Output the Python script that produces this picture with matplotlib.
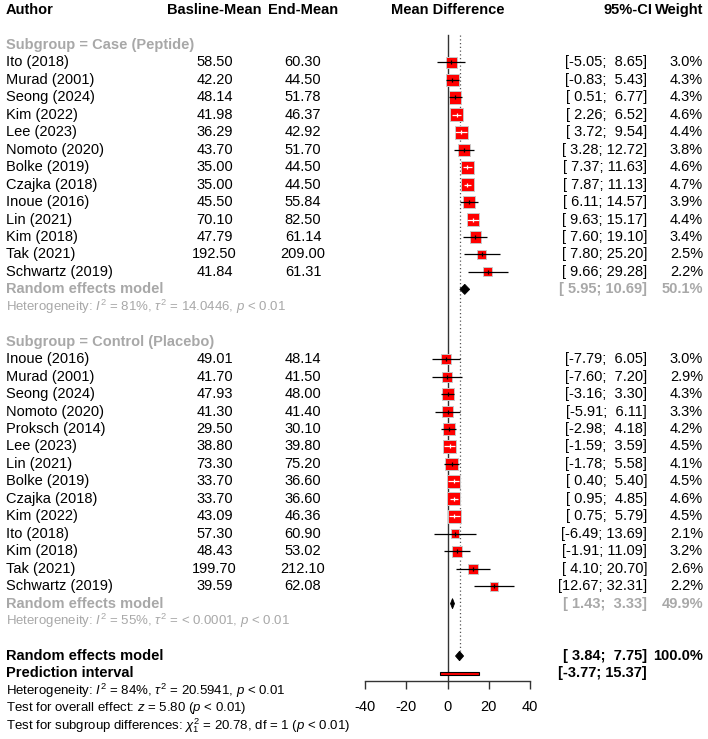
import matplotlib
matplotlib.use('Agg')
import matplotlib.pyplot as plt
import matplotlib.transforms as mtransforms
from matplotlib.patches import Polygon, Rectangle
import numpy as np

plt.rcParams['font.family'] = ['Liberation Sans', 'DejaVu Sans']
plt.rcParams['mathtext.fontset'] = 'custom'
plt.rcParams['mathtext.rm'] = 'Liberation Sans'
plt.rcParams['mathtext.it'] = 'Liberation Sans:italic'
plt.rcParams['mathtext.bf'] = 'Liberation Sans:bold'

# ---------------- data ----------------
case_authors = ["Ito (2018)", "Murad (2001)", "Seong (2024)", "Kim (2022)", "Lee (2023)",
                "Nomoto (2020)", "Bolke (2019)", "Czajka (2018)", "Inoue (2016)", "Lin (2021)",
                "Kim (2018)", "Tak (2021)", "Schwartz (2019)"]
case_base = [58.50, 42.20, 48.14, 41.98, 36.29, 43.70, 35.00, 35.00, 45.50, 70.10, 47.79, 192.50, 41.84]
case_end = [60.30, 44.50, 51.78, 46.37, 42.92, 51.70, 44.50, 44.50, 55.84, 82.50, 61.14, 209.00, 61.31]
case_md = [1.80, 2.30, 3.64, 4.39, 6.63, 8.00, 9.50, 9.50, 10.34, 12.40, 13.35, 16.50, 19.47]
case_lo = [-5.05, -0.83, 0.51, 2.26, 3.72, 3.28, 7.37, 7.87, 6.11, 9.63, 7.60, 7.80, 9.66]
case_hi = [8.65, 5.43, 6.77, 6.52, 9.54, 12.72, 11.63, 11.13, 14.57, 15.17, 19.10, 25.20, 29.28]
case_w = [3.0, 4.3, 4.3, 4.6, 4.4, 3.8, 4.6, 4.7, 3.9, 4.4, 3.4, 2.5, 2.2]
case_re = (8.32, 5.95, 10.69, 50.1)

ctrl_authors = ["Inoue (2016)", "Murad (2001)", "Seong (2024)", "Nomoto (2020)", "Proksch (2014)",
                "Lee (2023)", "Lin (2021)", "Bolke (2019)", "Czajka (2018)", "Kim (2022)",
                "Ito (2018)", "Kim (2018)", "Tak (2021)", "Schwartz (2019)"]
ctrl_base = [49.01, 41.70, 47.93, 41.30, 29.50, 38.80, 73.30, 33.70, 33.70, 43.09, 57.30, 48.43, 199.70, 39.59]
ctrl_end = [48.14, 41.50, 48.00, 41.40, 30.10, 39.80, 75.20, 36.60, 36.60, 46.36, 60.90, 53.02, 212.10, 62.08]
ctrl_md = [-0.87, -0.20, 0.07, 0.10, 0.60, 1.00, 1.90, 2.90, 2.90, 3.27, 3.60, 4.59, 12.40, 22.49]
ctrl_lo = [-7.79, -7.60, -3.16, -5.91, -2.98, -1.59, -1.78, 0.40, 0.95, 0.75, -6.49, -1.91, 4.10, 12.67]
ctrl_hi = [6.05, 7.20, 3.30, 6.11, 4.18, 3.59, 5.58, 5.40, 4.85, 5.79, 13.69, 11.09, 20.70, 32.31]
ctrl_w = [3.0, 2.9, 4.3, 3.3, 4.2, 4.5, 4.1, 4.5, 4.6, 4.5, 2.1, 3.2, 2.6, 2.2]
ctrl_re = (2.38, 1.43, 3.33, 49.9)

overall_re = (5.795, 3.84, 7.75, 100.0)
pred_int = (-3.77, 15.37)
x_ticks = [-40, -20, 0, 20, 40]

het_case = r"Heterogeneity: $I^2$ = 81%, $\tau^2$ = 14.0446, $p$ < 0.01"
het_ctrl = r"Heterogeneity: $I^2$ = 55%, $\tau^2$ = < 0.0001, $p$ < 0.01"
het_all = r"Heterogeneity: $I^2$ = 84%, $\tau^2$ = 20.5941, $p$ < 0.01"
test_all = r"Test for overall effect: $z$ = 5.80 ($p$ < 0.01)"
test_sub = r"Test for subgroup differences: $\chi^2_1$ = 20.78, df = 1 ($p$ < 0.01)"

# ---------------- layout ----------------
W, H, DPI = 708, 739, 100
ROW0, ROWH = 10.0, 17.46        # pixel y of row 0 and row height
X0, XS = 447.6, 2.0625          # pixel x of 0 and pixels per unit
FS = 10.5
FS_HET = 9.5
GRAY = '#A8A8A8'

fig = plt.figure(figsize=(W / DPI, H / DPI), dpi=DPI)
ax = fig.add_axes([0, 0, 1, 1])
ax.set_xlim(-X0 / XS, (W - X0) / XS)
ax.set_ylim((H - ROW0) / ROWH, -ROW0 / ROWH)

tr = mtransforms.blended_transform_factory(fig.transFigure, ax.transData)


def fx(px):
    return px / W


def txt(px, row, s, ha='left', weight='normal', color='black', size=FS):
    ax.text(fx(px), row, s, transform=tr, ha=ha, va='center', fontsize=size,
            fontweight=weight, color=color)


X_AUTH, X_BASE, X_END, X_CI, X_W = 6, 214.5, 303, 647, 703

# header
txt(X_AUTH, 0, "Author", weight='bold')
txt(X_BASE, 0, "Basline-Mean", ha='center', weight='bold')
txt(X_END, 0, "End-Mean", ha='center', weight='bold')
ax.text(0, 0, "Mean Difference", ha='center', va='center', fontsize=FS, fontweight='bold')
txt(653, 0, "95%-CI", ha='right', weight='bold')
txt(X_W, 0, "Weight", ha='right', weight='bold')


def ci_str(lo, hi):
    return f"[{lo:5.2f}; {hi:5.2f}]"


def side_px(w):
    return 13.0 * np.sqrt(w / 4.7)


def draw_group(start, label, authors, base, end, md, lo, hi, w, re, het):
    txt(X_AUTH, start, label, weight='bold', color=GRAY)
    rows = np.arange(start + 1, start + 1 + len(authors))
    for r, a, b, e, m, l, h, ww in zip(rows, authors, base, end, md, lo, hi, w):
        txt(X_AUTH, r, a)
        txt(X_BASE, r, f"{b:.2f}", ha='center')
        txt(X_END, r, f"{e:.2f}", ha='center')
        txt(X_CI, r, ci_str(l, h), ha='right')
        txt(X_W, r, f"{ww:.1f}%", ha='right')
    sides = np.array([side_px(v) for v in w])
    ax.scatter(md, rows, s=(sides * 72 / DPI) ** 2, marker='s', color='red',
               edgecolors='#C8C8C8', linewidths=0.7, zorder=3)
    for r, m, l, h, sd in zip(rows, md, lo, hi, sides):
        inside = (h - l) * XS <= sd
        c = 'white' if inside else 'black'
        ax.plot([l, h], [r, r], color=c, lw=0.9, zorder=4, solid_capstyle='butt')
        ax.plot([m], [r], marker='|', color=c, markersize=3.2, mew=0.9, zorder=4)
    rr = start + 1 + len(authors)
    txt(X_AUTH, rr, "Random effects model", weight='bold', color=GRAY)
    m, l, h, ww = re
    dh = 0.29
    ax.add_patch(Polygon([(l, rr), (m, rr - dh), (h, rr), (m, rr + dh)], closed=True,
                         facecolor='black', edgecolor='black', lw=0.6, zorder=4))
    txt(X_CI, rr, ci_str(l, h), ha='right', weight='bold', color=GRAY)
    txt(X_W, rr, f"{ww:.1f}%", ha='right', weight='bold', color=GRAY)
    txt(X_AUTH, rr + 1, het, color=GRAY, size=FS_HET)


draw_group(2, "Subgroup = Case (Peptide)", case_authors, case_base, case_end, case_md,
           case_lo, case_hi, case_w, case_re, het_case)
draw_group(19, "Subgroup = Control (Placebo)", ctrl_authors, ctrl_base, ctrl_end, ctrl_md,
           ctrl_lo, ctrl_hi, ctrl_w, ctrl_re, het_ctrl)

# overall
r_all = 37
m, l, h, ww = overall_re
dh = 0.27
txt(X_AUTH, r_all, "Random effects model", weight='bold')
ax.add_patch(Polygon([(l, r_all), (m, r_all - dh), (h, r_all), (m, r_all + dh)], closed=True,
                     facecolor='black', edgecolor='black', lw=0.6, zorder=4))
txt(X_CI, r_all, ci_str(l, h), ha='right', weight='bold')
txt(X_W, r_all, f"{ww:.1f}%", ha='right', weight='bold')

r_pi = 38
txt(X_AUTH, r_pi, "Prediction interval", weight='bold')
pl, ph = pred_int
ax.add_patch(Rectangle((pl, r_pi - 0.1), ph - pl, 0.2, facecolor='red', edgecolor='black',
                       lw=0.8, zorder=4))
txt(X_CI, r_pi, ci_str(pl, ph), ha='right', weight='bold')

txt(X_AUTH, 39, het_all, size=FS_HET)
txt(X_AUTH, 40, test_all, size=FS_HET)
txt(X_AUTH, 41, test_sub, size=FS_HET)

# reference lines
axis_row = (681 - ROW0) / ROWH
top_row = (35 - ROW0) / ROWH
ax.plot([0, 0], [top_row, axis_row], color='#333333', lw=1.0, zorder=2)
ax.plot([overall_re[0]] * 2, [top_row, r_all - dh], color='#555555', lw=0.9,
        ls=(0, (1, 2)), zorder=1)

# axis
for s in ['top', 'left', 'right']:
    ax.spines[s].set_visible(False)
ax.spines['bottom'].set_position(('data', axis_row))
ax.spines['bottom'].set_bounds(x_ticks[0], x_ticks[-1])
ax.spines['bottom'].set_color('#333333')
ax.spines['bottom'].set_linewidth(1.0)
ax.set_xticks(x_ticks)
ax.set_xticklabels([str(t) for t in x_ticks])
ax.tick_params(axis='x', direction='out', length=6, width=1.0, color='#333333',
               labelsize=FS, pad=8)
ax.set_yticks([])
ax.patch.set_alpha(0)

fig.savefig('out.png', dpi=DPI)
